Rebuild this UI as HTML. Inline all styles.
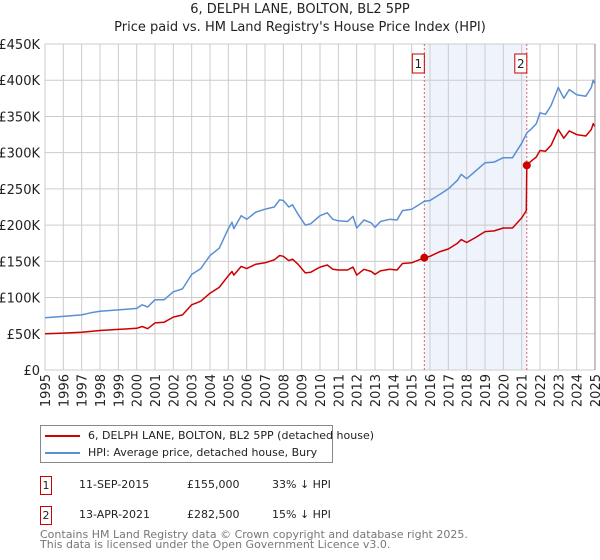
<!DOCTYPE html>
<html><head><meta charset="utf-8"><style>
body{margin:0;background:#fff;font-family:"Liberation Sans","DejaVu Sans",sans-serif;}
#wrap{position:relative;width:600px;height:560px;overflow:hidden;}
svg text{font-family:"DejaVu Sans","Liberation Sans",sans-serif;}
</style></head><body>
<div id="wrap">
<svg id="chart" width="600" height="560"></svg>
</div>
<script>
const years=[1995,1996,1997,1998,1999,2000,2001,2002,2003,2004,2005,2006,2007,2008,2009,2010,2011,2012,2013,2014,2015,2016,2017,2018,2019,2020,2021,2022,2023,2024,2025];
const yTicks=[0,50,100,150,200,250,300,350,400,450];
const hpiT=[1995,1996,1997,1997.5,1998,1999,2000,2000.3,2000.6,2001,2001.5,2002,2002.5,2003,2003.5,2004,2004.5,2005,2005.2,2005.3,2005.7,2006,2006.5,2007,2007.5,2007.8,2008,2008.3,2008.5,2008.8,2009.2,2009.5,2010,2010.4,2010.7,2011,2011.5,2011.8,2012,2012.4,2012.8,2013,2013.3,2013.8,2014.2,2014.5,2015,2015.7,2016,2016.5,2017,2017.5,2017.7,2018,2018.5,2019,2019.5,2020,2020.5,2021,2021.3,2021.5,2021.8,2022,2022.3,2022.6,2023,2023.3,2023.6,2024,2024.5,2024.8,2024.9,2025];
const hpiV=[72,74,76,79,81,83,85,90,87,97,97,108,112,132,140,158,168,195,204,195,213,208,218,222,225,235,234,225,228,215,200,202,213,217,208,206,205,212,196,207,203,197,205,208,207,220,222,233,234,242,250,262,270,264,275,286,287,293,293,313,328,332,340,355,353,365,390,375,387,380,378,390,400,395];
const ppT=[1995,1996,1997,1998,1999,2000,2000.3,2000.6,2001,2001.5,2002,2002.5,2003,2003.5,2004,2004.5,2005,2005.2,2005.3,2005.7,2006,2006.5,2007,2007.5,2007.8,2008,2008.3,2008.5,2008.8,2009.2,2009.5,2010,2010.4,2010.7,2011,2011.5,2011.8,2012,2012.4,2012.8,2013,2013.3,2013.8,2014.2,2014.5,2015,2015.7,2016,2016.5,2017,2017.5,2017.7,2018,2018.5,2019,2019.5,2020,2020.5,2021,2021.25,2021.28,2021.5,2021.8,2022,2022.3,2022.6,2023,2023.3,2023.6,2024,2024.5,2024.8,2024.9,2025];
const ppV=[50,51,52,54.5,56,57.5,60,57,65,66,73,76,90,95,106,114,130,136,131,143,140,146,148,152,158,157,151,153,146,134,135,142,145,139,138,138,142,131,139,136,132,137,139,138,147,148,155,157,163,167,175,180,176,183,191,192,196,196,210,220,282.5,288,294,303,302,310,332,320,330,325,323,332,340,336];
const saleT=[2015.69,2021.28];
const saleV=[155,282.5];
const saleLabels=["1","2"];

const L=45,R=595,T=44,B=370;
const x=t=>L+(t-1995)/30*(R-L);
const y=v=>B-v/450*(B-T);
const svg=document.getElementById('chart');
const NS='http://www.w3.org/2000/svg';
function mk(tag,attrs,parent){const e=document.createElementNS(NS,tag);for(const k in attrs)e.setAttribute(k,attrs[k]);(parent||svg).appendChild(e);return e;}

let e=mk('rect',{x:x(saleT[0]),y:T,width:x(saleT[1])-x(saleT[0]),height:B-T,fill:'#eef3fc'});


yTicks.forEach(v=>{
 let g=mk('line',{x1:L,x2:R,y1:y(v),y2:y(v),stroke:'#cccccc','stroke-width':1});
 
 
 let t=mk('text',{x:L-5,y:y(v)+5,'text-anchor':'end','font-size':13,fill:'#222'});
 t.textContent=v===0?'£0':'£'+v+'K';
 
 
});
years.forEach(yr=>{
 let g=mk('line',{x1:x(yr),x2:x(yr),y1:T,y2:B,stroke:'#cccccc','stroke-width':1});
 
 
 let t=mk('text',{x:0,y:0,'text-anchor':'end','font-size':13,fill:'#222',transform:`translate(${x(yr)+5},${B+4}) rotate(-90)`});
 t.textContent=yr;
 
 
});
saleT.forEach((s,i)=>{
 let l=mk('line',{x1:x(s),x2:x(s),y1:T,y2:B,stroke:'#e06060','stroke-width':1,'stroke-dasharray':'2,2'});
 
 
 let r=mk('rect',{x:x(s)-12,y:54,width:12,height:19,fill:'#fff',stroke:'#cc0000','stroke-width':1});
 
 
 let t=mk('text',{x:x(s)-6,y:68,'text-anchor':'middle','font-size':12,fill:'#222'});
 t.textContent=saleLabels[i];
 
 
});
function line(ts,vs,col,name){
 const d=ts.map((t,i)=>(i?'L':'M')+x(t).toFixed(1)+','+y(vs[i]).toFixed(1)).join('');
 let p=mk('path',{d,fill:'none',stroke:col,'stroke-width':1.5,'stroke-linejoin':'round'});
 
 
}
line(hpiT,hpiV,'#5b8fd4','hpi-line');
line(ppT,ppV,'#cc0000','price-paid-line');
saleT.forEach((s,i)=>{
 let c=mk('circle',{cx:x(s),cy:y(saleV[i]),r:4,fill:'#cc0000'});
 
 
});
let ax=mk('line',{x1:R,x2:R,y1:T,y2:B,stroke:'#888','stroke-width':1});


</script>
<div style="position:absolute;left:0;top:1px;width:600px;text-align:center;font-family:'DejaVu Sans',sans-serif;font-size:13px;line-height:18px;color:#222">6, DELPH LANE, BOLTON, BL2 5PP<br>Price paid vs. HM Land Registry's House Price Index (HPI)</div>
<div style="position:absolute;left:40px;top:425px;width:291px;height:36px;border:1px solid #888;font-family:'DejaVu Sans',sans-serif;font-size:11px;color:#222">
 <div style="position:absolute;left:4px;top:3px;white-space:nowrap"><span style="display:inline-block;width:35px;height:2px;background:#cc0000;vertical-align:middle;margin-right:8px"></span>6, DELPH LANE, BOLTON, BL2 5PP (detached house)</div>
 <div style="position:absolute;left:4px;top:20px;white-space:nowrap"><span style="display:inline-block;width:35px;height:2px;background:#5b8fd4;vertical-align:middle;margin-right:8px"></span>HPI: Average price, detached house, Bury</div>
</div>
<div style="font-family:'DejaVu Sans',sans-serif;font-size:11px;color:#222">
 <div style="position:absolute;left:40px;top:476px;width:10px;height:17px;border:1px solid #cc0000;text-align:center;line-height:17px">1</div>
 <div style="position:absolute;left:79px;top:478px">11-SEP-2015</div>
 <div style="position:absolute;left:187px;top:478px">£155,000</div>
 <div style="position:absolute;left:272px;top:478px">33% ↓ HPI</div>
 <div style="position:absolute;left:40px;top:506px;width:10px;height:17px;border:1px solid #cc0000;text-align:center;line-height:17px">2</div>
 <div style="position:absolute;left:79px;top:508px">13-APR-2021</div>
 <div style="position:absolute;left:187px;top:508px">£282,500</div>
 <div style="position:absolute;left:272px;top:508px">15% ↓ HPI</div>
</div>
<div style="position:absolute;left:40px;top:530px;font-family:'DejaVu Sans',sans-serif;font-size:11px;line-height:10px;color:#777">Contains HM Land Registry data © Crown copyright and database right 2025.<br>This data is licensed under the Open Government Licence v3.0.</div>
</body></html>
